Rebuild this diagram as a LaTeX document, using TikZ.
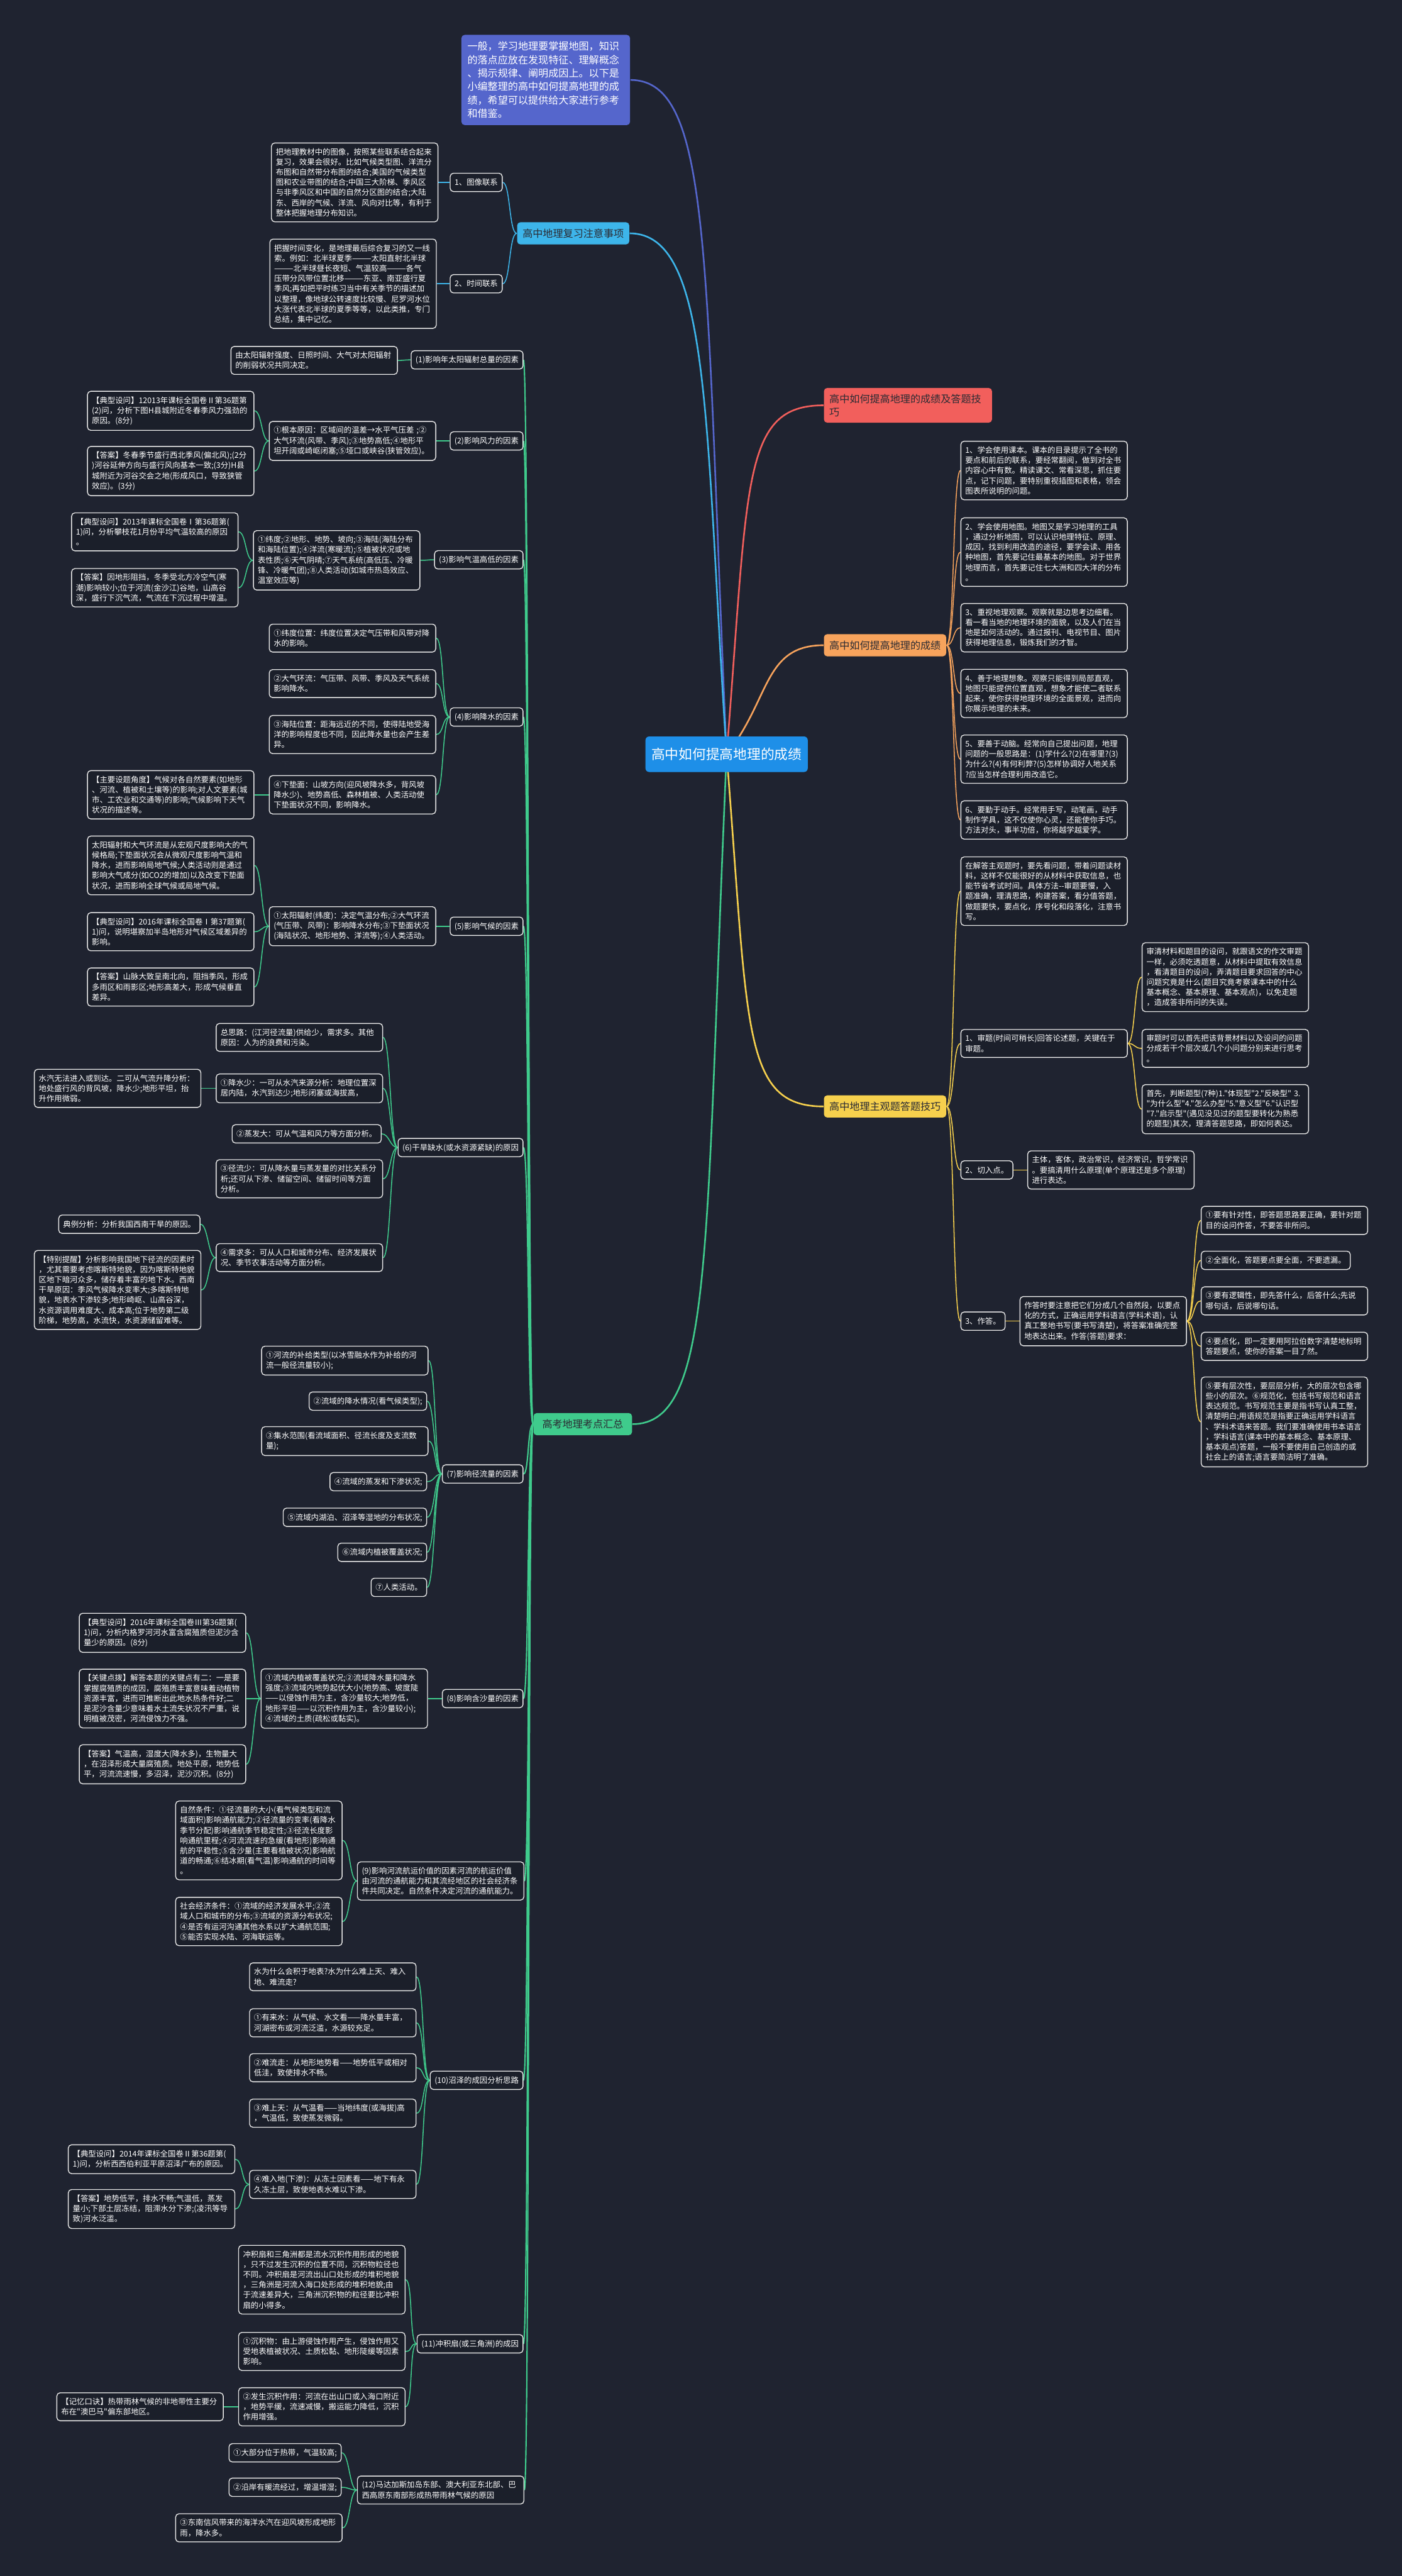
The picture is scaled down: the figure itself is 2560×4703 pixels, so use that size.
\documentclass[tikz,border=0pt]{standalone}
\usepackage{fontspec}
\setmainfont{Noto Sans CJK SC}[Ligatures=TeXOff]
\usepackage{xcolor}
\definecolor{bgdark}{HTML}{1F2330}
\definecolor{cardfill}{HTML}{1B1F2A}
\definecolor{cardline}{HTML}{E6E6E6}
\definecolor{introblue}{HTML}{5566CC}
\definecolor{hubblue}{HTML}{1E8FE8}
\definecolor{revcyan}{HTML}{3DB5EA}
\definecolor{tipred}{HTML}{F25F5C}
\definecolor{raiseorange}{HTML}{F7A35C}
\definecolor{subjyellow}{HTML}{F6D04D}
\definecolor{examgreen}{HTML}{3FCB8C}
\definecolor{darktext}{HTML}{2B2B33}
\usepackage{tikz}
\usetikzlibrary{positioning}
\pgfdeclarelayer{backdrop}
\pgfdeclarelayer{links}
\pgfsetlayers{backdrop,links,main}
\newcommand\cardfont{\fontsize{4.05pt}{5.29pt}\selectfont\lineskiplimit=-4pt\relax}
\newcommand\headfont{\fontsize{5.26pt}{6.97pt}\selectfont\lineskiplimit=-4pt\relax}
\newcommand\hubfont{\fontsize{7.1pt}{8.5pt}\selectfont}

\begin{document}
\begin{tikzpicture}[x=0.1mm, y=-0.1mm,
  base/.style={draw=cardline, fill=cardfill, line width=0.45pt, rounded corners=0.6mm,
               text=white, inner xsep=0.8mm, inner ysep=0.96mm},
  card/.style={base, font=\cardfont, text width=28.8mm, align=left},
  tag/.style={base, font=\cardfont, text height=3.55pt, text depth=0.5pt},
  headbox/.style={rounded corners=0.6mm, font=\headfont, text=darktext,
                  inner xsep=1mm, inner ysep=1.1mm},
  head/.style={headbox, text height=4.6pt, text depth=0.66pt},
  hub/.style={fill=hubblue, rounded corners=0.7mm, font=\hubfont, text=white,
              inner xsep=1.1mm, inner ysep=2mm, text height=6.2pt, text depth=0.9pt},
  lnk/.style={line width=0.5pt},
  bigl/.style={line width=0.85pt},
  glnk/.style={lnk, draw=examgreen},
  olnk/.style={lnk, draw=raiseorange},
  ylnk/.style={lnk, draw=subjyellow},
  clnk/.style={lnk, draw=revcyan},
  tol/.style={to path={(\tikztostart) .. controls +(-#1,0) and +(#1,0) .. (\tikztotarget)}},
  tol/.default=14,
  tor/.style={to path={(\tikztostart) .. controls +(#1,0) and +(-#1,0) .. (\tikztotarget)}},
  tor/.default=14
]
\useasboundingbox (0,0) rectangle (2560,4703);
\begin{pgfonlayer}{backdrop}
  \fill[bgdark] (0,0) rectangle (2560,4703);
\end{pgfonlayer}

% centre and main branches
\node[hub] (hub) at (1327,1377) {高中如何提高地理的成绩};
\node[headbox, fill=introblue, text=white, text width=28.6mm, align=left,
      inner xsep=1.1mm, inner ysep=1.25mm, anchor=west] (intro) at (842,146)
  {一般，学习地理要掌握地图，知识\\
   的落点应放在发现特征、理解概念\\
   、揭示规律、阐明成因上。以下是\\
   小编整理的高中如何提高地理的成\\
   绩，希望可以提供给大家进行参考\\
   和借鉴。};
\node[head, fill=revcyan, anchor=east] (review) at (1150,426) {高中地理复习注意事项};
\node[head, fill=examgreen, anchor=east, minimum width=18mm] (exam) at (1155,2600) {高考地理考点汇总};
\node[headbox, fill=tipred, text width=28.7mm, align=left, anchor=west] (tips) at (1504,740)
  {高中如何提高地理的成绩及答题技\\巧};
\node[head, fill=raiseorange, anchor=west] (raise) at (1504,1178) {高中如何提高地理的成绩};
\node[head, fill=subjyellow, anchor=west] (subj) at (1504,2020) {高中地理主观题答题技巧};

% review
\node[tag, anchor=east] (img) at (918,333) {1、图像联系};
\node[card, anchor=west] (imgT) at (495,333)
  {把地理教材中的图像，按照某些联系结合起来\\
   复习，效果会很好。比如气候类型图、洋流分\\
   布图和自然带分布图的结合;美国的气候类型\\
   图和农业带图的结合;中国三大阶梯、季风区\\
   与非季风区和中国的自然分区图的结合;大陆\\
   东、西岸的气候、洋流、风向对比等，有利于\\
   整体把握地理分布知识。};
\node[tag, anchor=east] (tim) at (918,518) {2、时间联系};
\node[card, anchor=west] (timT) at (492,518)
  {把握时间变化，是地理最后综合复习的又一线\\
   索。例如：北半球夏季———太阳直射北半球\\
   ———北半球昼长夜短、气温较高———各气\\
   压带分风带位置北移———东亚、南亚盛行夏\\
   季风;再如把平时练习当中有关季节的描述加\\
   以整理，像地球公转速度比较慢、尼罗河水位\\
   大涨代表北半球的夏季等等，以此类推，专门\\
   总结，集中记忆。};

% exam points
\node[tag, anchor=east] (sun) at (956,657) {(1)影响年太阳辐射总量的因素};
\node[card, anchor=west] (sunT) at (421,658)
  {由太阳辐射强度、日照时间、大气对太阳辐射\\
   的削弱状况共同决定。};

\node[tag, anchor=east] (wind) at (956,805) {(2)影响风力的因素};
\node[card, anchor=west] (windA) at (491,805)
  {①根本原因：区域间的温差→水平气压差~;②\\
   大气环流(风带、季风);③地势高低;④地形平\\
   坦开阔或崎岖闭塞;⑤垭口或峡谷(狭管效应)。};
\node[card, anchor=west] (windQ) at (159,750)
  {【典型设问】12013年课标全国卷Ⅱ第36题第\\
   (2)问，分析下图H县城附近冬春季风力强劲的\\
   原因。(8分)};
\node[card, anchor=west] (windK) at (159,860)
  {【答案】冬春季节盛行西北季风(偏北风);(2分\\
   )河谷延伸方向与盛行风向基本一致;(3分)H县\\
   城附近为河谷交会之地(形成风口，导致狭管\\
   效应)。(3分)};

\node[tag, anchor=east] (temp) at (956,1022) {(3)影响气温高低的因素};
\node[card, anchor=west] (tempA) at (462,1023)
  {①纬度;②地形、地势、坡向;③海陆(海陆分布\\
   和海陆位置);④洋流(寒暖流);⑤植被状况或地\\
   表性质;⑥天气阴晴;⑦天气系统(高低压、冷暖\\
   锋、冷暖气团);⑧人类活动(如城市热岛效应、\\
   温室效应等)};
\node[card, anchor=west] (tempQ) at (130,971)
  {【典型设问】2013年课标全国卷Ⅰ第36题第(\\
   1)问，分析攀枝花1月份平均气温较高的原因\\
   。};
\node[card, anchor=west] (tempK) at (130,1073)
  {【答案】因地形阻挡，冬季受北方冷空气(寒\\
   潮)影响较小;位于河流(金沙江)谷地，山高谷\\
   深，盛行下沉气流，气流在下沉过程中增温。};

\node[tag, anchor=east] (rain) at (956,1309) {(4)影响降水的因素};
\node[card, anchor=west] (rain1) at (491,1165)
  {①纬度位置：纬度位置决定气压带和风带对降\\
   水的影响。};
\node[card, anchor=west] (rain2) at (491,1248)
  {②大气环流：气压带、风带、季风及天气系统\\
   影响降水。};
\node[card, anchor=west] (rain3) at (491,1341)
  {③海陆位置：距海远近的不同，使得陆地受海\\
   洋的影响程度也不同，因此降水量也会产生差\\
   异。};
\node[card, anchor=west] (rain4) at (491,1451)
  {④下垫面：山坡方向(迎风坡降水多，背风坡\\
   降水少)、地势高低、森林植被、人类活动使\\
   下垫面状况不同，影响降水。};
\node[card, anchor=west] (rainN) at (159,1451)
  {【主要设题角度】气候对各自然要素(如地形\\
   、河流、植被和土壤等)的影响;对人文要素(城\\
   市、工农业和交通等)的影响;气候影响下天气\\
   状况的描述等。};

\node[tag, anchor=east] (clim) at (956,1691) {(5)影响气候的因素};
\node[card, anchor=west] (climA) at (491,1691)
  {①太阳辐射(纬度)：决定气温分布;②大气环流\\
   (气压带、风带)：影响降水分布;③下垫面状况\\
   (海陆状况、地形地势、洋流等);④人类活动。};
\node[card, anchor=west] (climN) at (159,1580)
  {太阳辐射和大气环流是从宏观尺度影响大的气\\
   候格局;下垫面状况会从微观尺度影响气温和\\
   降水，进而影响局地气候;人类活动则是通过\\
   影响大气成分(如CO2的增加)以及改变下垫面\\
   状况，进而影响全球气候或局地气候。};
\node[card, anchor=west] (climQ) at (159,1701)
  {【典型设问】2016年课标全国卷Ⅰ第37题第(\\
   1)问，说明堪察加半岛地形对气候区域差异的\\
   影响。};
\node[card, anchor=west] (climK) at (159,1802)
  {【答案】山脉大致呈南北向，阻挡季风，形成\\
   多雨区和雨影区;地形高差大，形成气候垂直\\
   差异。};

\node[tag, anchor=east] (dry) at (956,2095) {(6)干旱缺水(或水资源紧缺)的原因};
\node[card, anchor=west] (dry0) at (394,1894)
  {总思路：(江河径流量)供给少，需求多。其他\\
   原因：人为的浪费和污染。};
\node[card, anchor=west] (dry1) at (394,1987)
  {①降水少：一可从水汽来源分析：地理位置深\\
   居内陆，水汽到达少;地形闭塞或海拔高，};
\node[card, anchor=west] (dry1N) at (62,1987)
  {水汽无法进入或到达。二可从气流升降分析：\\
   地处盛行风的背风坡，降水少;地形平坦，抬\\
   升作用微弱。};
\node[tag, anchor=east] (dry2) at (697,2070) {②蒸发大：可从气温和风力等方面分析。};
\node[card, anchor=west] (dry3) at (394,2152)
  {③径流少：可从降水量与蒸发量的对比关系分\\
   析;还可从下渗、储留空间、储留时间等方面\\
   分析。};
\node[card, anchor=west] (dry4) at (394,2296)
  {④需求多：可从人口和城市分布、经济发展状\\
   况、季节农事活动等方面分析。};
\node[tag, anchor=east] (dry4E) at (366,2235) {典例分析：分析我国西南干旱的原因。};
\node[card, anchor=west] (dry4N) at (62,2355)
  {【特别提醒】分析影响我国地下径流的因素时\\
   ，尤其需要考虑喀斯特地貌，因为喀斯特地貌\\
   区地下暗河众多，储存着丰富的地下水。西南\\
   干旱原因：季风气候降水变率大;多喀斯特地\\
   貌，地表水下渗较多;地形崎岖、山高谷深，\\
   水资源调用难度大、成本高;位于地势第二级\\
   阶梯，地势高，水流快，水资源储留难等。};

\node[tag, anchor=east] (flow) at (956,2691) {(7)影响径流量的因素};
\node[card, anchor=west] (flow1) at (477,2484)
  {①河流的补给类型(以冰雪融水作为补给的河\\
   流一般径流量较小);};
\node[tag, anchor=east] (flow2) at (780,2558) {②流域的降水情况(看气候类型);};
\node[card, anchor=west] (flow3) at (477,2631)
  {③集水范围(看流域面积、径流长度及支流数\\
   量);};
\node[tag, anchor=east] (flow4) at (780,2705) {④流域的蒸发和下渗状况;};
\node[tag, anchor=east] (flow5) at (780,2770) {⑤流域内湖泊、沼泽等湿地的分布状况;};
\node[tag, anchor=east] (flow6) at (780,2834) {⑥流域内植被覆盖状况;};
\node[tag, anchor=east] (flow7) at (780,2898) {⑦人类活动。};

\node[tag, anchor=east] (silt) at (956,3101) {(8)影响含沙量的因素};
\node[card, anchor=west] (siltA) at (476,3101)
  {①流域内植被覆盖状况;②流域降水量和降水\\
   强度;③流域内地势起伏大小(地势高、坡度陡\\
   ——以侵蚀作用为主，含沙量较大;地势低，\\
   地形平坦——以沉积作用为主，含沙量较小);\\
   ④流域的土质(疏松或黏实)。};
\node[card, anchor=west] (siltQ) at (144,2981)
  {【典型设问】2016年课标全国卷Ⅲ第36题第(\\
   1)问，分析内格罗河河水富含腐殖质但泥沙含\\
   量少的原因。(8分)};
\node[card, anchor=west] (siltP) at (144,3101)
  {【关键点拨】解答本题的关键点有二：一是要\\
   掌握腐殖质的成因，腐殖质丰富意味着动植物\\
   资源丰富，进而可推断出此地水热条件好;二\\
   是泥沙含量少意味着水土流失状况不严重，说\\
   明植被茂密，河流侵蚀力不强。};
\node[card, anchor=west] (siltK) at (144,3221)
  {【答案】气温高，湿度大(降水多)，生物量大\\
   ，在沼泽形成大量腐殖质。地处平原，地势低\\
   平，河流流速慢，多沼泽，泥沙沉积。(8分)};

\node[card, anchor=west] (ship) at (652,3434)
  {(9)影响河流航运价值的因素河流的航运价值\\
   由河流的通航能力和其流经地区的社会经济条\\
   件共同决定。自然条件决定河流的通航能力。};
\node[card, anchor=west] (shipN) at (320,3360)
  {自然条件：①径流量的大小(看气候类型和流\\
   域面积)影响通航能力;②径流量的变率(看降水\\
   季节分配)影响通航季节稳定性;③径流长度影\\
   响通航里程;④河流流速的急缓(看地形)影响通\\
   航的平稳性;⑤含沙量(主要看植被状况)影响航\\
   道的畅通;⑥结冰期(看气温)影响通航的时间等\\
   。};
\node[card, anchor=west] (shipS) at (320,3508)
  {社会经济条件：①流域的经济发展水平;②流\\
   域人口和城市的分布;③流域的资源分布状况;\\
   ④是否有运河沟通其他水系以扩大通航范围;\\
   ⑤能否实现水陆、河海联运等。};

\node[tag, anchor=east] (marsh) at (956,3798) {(10)沼泽的成因分析思路};
\node[card, anchor=west] (marsh0) at (455,3609)
  {水为什么会积于地表?水为什么难上天、难入\\
   地、难流走?};
\node[card, anchor=west] (marsh1) at (455,3693)
  {①有来水：从气候、水文看——降水量丰富，\\
   河湖密布或河流泛滥，水源较充足。};
\node[card, anchor=west] (marsh2) at (455,3775)
  {②难流走：从地形地势看——地势低平或相对\\
   低洼，致使排水不畅。};
\node[card, anchor=west] (marsh3) at (455,3858)
  {③难上天：从气温看——当地纬度(或海拔)高\\
   ，气温低，致使蒸发微弱。};
\node[card, anchor=west] (marsh4) at (455,3988)
  {④难入地(下渗)：从冻土因素看——地下有永\\
   久冻土层，致使地表水难以下渗。};
\node[card, anchor=west] (marshQ) at (124,3942)
  {【典型设问】2014年课标全国卷Ⅱ第36题第(\\
   1)问，分析西西伯利亚平原沼泽广布的原因。};
\node[card, anchor=west] (marshK) at (124,4033)
  {【答案】地势低平，排水不畅;气温低，蒸发\\
   量小;下部土层冻结，阻滞水分下渗;(凌汛等导\\
   致)河水泛滥。};

\node[tag, anchor=east] (fan) at (956,4279) {(11)冲积扇(或三角洲)的成因};
\node[card, anchor=west] (fan0) at (435,4162)
  {冲积扇和三角洲都是流水沉积作用形成的地貌\\
   ，只不过发生沉积的位置不同，沉积物粒径也\\
   不同。冲积扇是河流出山口处形成的堆积地貌\\
   ，三角洲是河流入海口处形成的堆积地貌;由\\
   于流速差异大，三角洲沉积物的粒径要比冲积\\
   扇的小得多。};
\node[card, anchor=west] (fan1) at (435,4293)
  {①沉积物：由上游侵蚀作用产生，侵蚀作用又\\
   受地表植被状况、土质松黏、地形陡缓等因素\\
   影响。};
\node[card, anchor=west] (fan2) at (435,4394)
  {②发生沉积作用：河流在出山口或入海口附近\\
   ，地势平缓，流速减慢，搬运能力降低，沉积\\
   作用增强。};
\node[card, anchor=west] (fan2N) at (103,4394)
  {【记忆口诀】热带雨林气候的非地带性主要分\\
   布在"澳巴马"偏东部地区。};

\node[card, anchor=west] (forest) at (652,4546)
  {(12)马达加斯加岛东部、澳大利亚东北部、巴\\
   西高原东南部形成热带雨林气候的原因};
\node[tag, anchor=east] (forest1) at (624,4478) {①大部分位于热带，气温较高;};
\node[tag, anchor=east] (forest2) at (624,4541) {②沿岸有暖流经过，增温增湿;};
\node[card, anchor=west] (forest3) at (320,4615)
  {③东南信风带来的海洋水汽在迎风坡形成地形\\
   雨，降水多。};

% raise the grade
\node[card, anchor=west] (way1) at (1754,859)
  {1、学会使用课本。课本的目录提示了全书的\\
   要点和前后的联系，要经常翻阅，做到对全书\\
   内容心中有数。精读课文、常看深思，抓住要\\
   点，记下问题，要特别重视插图和表格，领会\\
   图表所说明的问题。};
\node[card, anchor=west] (way2) at (1754,1008)
  {2、学会使用地图。地图又是学习地理的工具\\
   ，通过分析地图，可以认识地理特征、原理、\\
   成因，找到利用改造的途径，要学会读、用各\\
   种地图，首先要记住最基本的地图。对于世界\\
   地理而言，首先要记住七大洲和四大洋的分布\\
   。};
\node[card, anchor=west] (way3) at (1754,1146)
  {3、重视地理观察。观察就是边思考边细看。\\
   看一看当地的地理环境的面貌，以及人们在当\\
   地是如何活动的。通过报刊、电视节目、图片\\
   获得地理信息，锻炼我们的才智。};
\node[card, anchor=west] (way4) at (1754,1266)
  {4、善于地理想象。观察只能得到局部直观，\\
   地图只能提供位置直观，想象才能使二者联系\\
   起来，使你获得地理环境的全面景观，进而向\\
   你展示地理的未来。};
\node[card, anchor=west] (way5) at (1754,1386)
  {5、要善于动脑。经常向自己提出问题，地理\\
   问题的一般思路是：(1)学什么?(2)在哪里?(3)\\
   为什么?(4)有何利弊?(5)怎样协调好人地关系\\
   ?应当怎样合理利用改造它。};
\node[card, anchor=west] (way6) at (1754,1497)
  {6、要勤于动手。经常用手写，动笔画，动手\\
   制作学具，这不仅使你心灵，还能使你手巧。\\
   方法对头，事半功倍，你将越学越爱学。};

% subjective questions
\node[card, anchor=west] (ans0) at (1754,1627)
  {在解答主观题时，要先看问题，带着问题读材\\
   料，这样不仅能很好的从材料中获取信息，也\\
   能节省考试时间。具体方法--审题要慢，入\\
   题准确，理清思路，构建答案，看分值答题，\\
   做题要快，要点化，序号化和段落化，注意书\\
   写。};
\node[card, anchor=west] (ans1) at (1754,1905)
  {1、审题(时间可稍长)回答论述题，关键在于\\
   审题。};
\node[card, anchor=west] (ans1a) at (2085,1784)
  {审清材料和题目的设问，就跟语文的作文审题\\
   一样，必须吃透题意，从材料中提取有效信息\\
   ，看清题目的设问，弄清题目要求回答的中心\\
   问题究竟是什么(题目究竟考察课本中的什么\\
   基本概念、基本原理、基本观点)，以免走题\\
   ，造成答非所问的失误。};
\node[card, anchor=west] (ans1b) at (2085,1914)
  {审题时可以首先把该背景材料以及设问的问题\\
   分成若干个层次或几个小问题分别来进行思考\\
   。};
\node[card, anchor=west] (ans1c) at (2085,2025)
  {首先，判断题型(7种)1."体现型"2."反映型"~3.\\
   "为什么型"4."怎么办型"5."意义型"6."认识型\\
   "7."启示型"(遇见没见过的题型要转化为熟悉\\
   的题型)其次，理清答题思路，即如何表达。};
\node[tag, anchor=west] (ans2) at (1754,2136) {2、切入点。};
\node[card, anchor=west] (ans2a) at (1876,2136)
  {主体，客体，政治常识，经济常识，哲学常识\\
   。要搞清用什么原理(单个原理还是多个原理)\\
   进行表达。};
\node[tag, anchor=west] (ans3) at (1754,2412) {3、作答。};
\node[card, anchor=west] (ans3a) at (1862,2412)
  {作答时要注意把它们分成几个自然段，以要点\\
   化的方式，正确运用学科语言(学科术语)，认\\
   真工整地书写(要书写清楚)，将答案准确完整\\
   地表达出来。作答(答题)要求：};
\node[card, anchor=west] (req1) at (2193,2228)
  {①要有针对性，即答题思路要正确，要针对题\\
   目的设问作答，不要答非所问。};
\node[tag, anchor=west] (req2) at (2193,2301) {②全面化，答题要点要全面，不要遗漏。};
\node[card, anchor=west] (req3) at (2193,2375)
  {③要有逻辑性，即先答什么，后答什么;先说\\
   哪句话，后说哪句话。};
\node[card, anchor=west] (req4) at (2193,2458)
  {④要点化，即一定要用阿拉伯数字清楚地标明\\
   答题要点，使你的答案一目了然。};
\node[card, anchor=west] (req5) at (2193,2596)
  {⑤要有层次性，要层层分析，大的层次包含哪\\
   些小的层次。⑥规范化，包括书写规范和语言\\
   表达规范。书写规范主要是指书写认真工整，\\
   清楚明白;用语规范是指要正确运用学科语言\\
   、学科术语来答题。我们要准确使用书本语言\\
   ，学科语言(课本中的基本概念、基本原理、\\
   基本观点)答题，一般不要使用自己创造的或\\
   社会上的语言;语言要简洁明了准确。};

\begin{pgfonlayer}{links}
  \draw[bigl, introblue] (hub.center) .. controls +(-40,-900) and +(150,0) .. (intro.east);
  \draw[bigl, revcyan] (hub.center) .. controls +(-40,-600) and +(150,0) .. (review.east);
  \draw[bigl, examgreen] (hub.center) .. controls +(-40,900) and +(150,0) .. (exam.east);
  \draw[bigl, tipred] (hub.center) .. controls +(40,-500) and +(-150,0) .. (tips.west);
  \draw[bigl, raiseorange] (hub.center) .. controls +(80,-100) and +(-110,0) .. (raise.west);
  \draw[bigl, subjyellow] (hub.center) .. controls +(40,500) and +(-150,0) .. (subj.west);

  \draw[clnk] (review.west) to[tol] (img.east);
  \draw[clnk] (review.west) to[tol] (tim.east);
  \draw[clnk] (img.west) to[tol] (imgT.east);
  \draw[clnk] (tim.west) to[tol] (timT.east);

  \draw[glnk, line width=0.7pt] (exam.west) to[tol=10] (sun.east);
  \draw[glnk, line width=0.7pt] (exam.west) to[tol=10] (wind.east);
  \draw[glnk, line width=0.7pt] (exam.west) to[tol=10] (temp.east);
  \draw[glnk, line width=0.7pt] (exam.west) to[tol=10] (rain.east);
  \draw[glnk, line width=0.7pt] (exam.west) to[tol=10] (clim.east);
  \draw[glnk, line width=0.7pt] (exam.west) to[tol=10] (dry.east);
  \draw[glnk, line width=0.7pt] (exam.west) to[tol=10] (flow.east);
  \draw[glnk, line width=0.7pt] (exam.west) to[tol=10] (silt.east);
  \draw[glnk, line width=0.7pt] (exam.west) to[tol=10] (ship.east);
  \draw[glnk, line width=0.7pt] (exam.west) to[tol=10] (marsh.east);
  \draw[glnk, line width=0.7pt] (exam.west) to[tol=10] (fan.east);
  \draw[glnk, line width=0.7pt] (exam.west) to[tol=10] (forest.east);

  \draw[glnk] (sun.west) to[tol] (sunT.east);
  \draw[glnk] (wind.west) to[tol] (windA.east);
  \draw[glnk] (windA.west) to[tol] (windQ.east);
  \draw[glnk] (windA.west) to[tol] (windK.east);
  \draw[glnk] (temp.west) to[tol] (tempA.east);
  \draw[glnk] (tempA.west) to[tol] (tempQ.east);
  \draw[glnk] (tempA.west) to[tol] (tempK.east);
  \draw[glnk] (rain.west) to[tol] (rain1.east);
  \draw[glnk] (rain.west) to[tol] (rain2.east);
  \draw[glnk] (rain.west) to[tol] (rain3.east);
  \draw[glnk] (rain.west) to[tol] (rain4.east);
  \draw[glnk] (rain4.west) to[tol] (rainN.east);
  \draw[glnk] (clim.west) to[tol] (climA.east);
  \draw[glnk] (climA.west) to[tol] (climN.east);
  \draw[glnk] (climA.west) to[tol] (climQ.east);
  \draw[glnk] (climA.west) to[tol] (climK.east);
  \draw[glnk] (dry.west) to[tol] (dry0.east);
  \draw[glnk] (dry.west) to[tol] (dry1.east);
  \draw[glnk] (dry.west) to[tol] (dry2.east);
  \draw[glnk] (dry.west) to[tol] (dry3.east);
  \draw[glnk] (dry.west) to[tol] (dry4.east);
  \draw[glnk] (dry1.west) to[tol] (dry1N.east);
  \draw[glnk] (dry4.west) to[tol] (dry4E.east);
  \draw[glnk] (dry4.west) to[tol] (dry4N.east);
  \draw[glnk] (flow.west) to[tol] (flow1.east);
  \draw[glnk] (flow.west) to[tol] (flow2.east);
  \draw[glnk] (flow.west) to[tol] (flow3.east);
  \draw[glnk] (flow.west) to[tol] (flow4.east);
  \draw[glnk] (flow.west) to[tol] (flow5.east);
  \draw[glnk] (flow.west) to[tol] (flow6.east);
  \draw[glnk] (flow.west) to[tol] (flow7.east);
  \draw[glnk] (silt.west) to[tol] (siltA.east);
  \draw[glnk] (siltA.west) to[tol] (siltQ.east);
  \draw[glnk] (siltA.west) to[tol] (siltP.east);
  \draw[glnk] (siltA.west) to[tol] (siltK.east);
  \draw[glnk] (ship.west) to[tol] (shipN.east);
  \draw[glnk] (ship.west) to[tol] (shipS.east);
  \draw[glnk] (marsh.west) to[tol] (marsh0.east);
  \draw[glnk] (marsh.west) to[tol] (marsh1.east);
  \draw[glnk] (marsh.west) to[tol] (marsh2.east);
  \draw[glnk] (marsh.west) to[tol] (marsh3.east);
  \draw[glnk] (marsh.west) to[tol] (marsh4.east);
  \draw[glnk] (marsh4.west) to[tol] (marshQ.east);
  \draw[glnk] (marsh4.west) to[tol] (marshK.east);
  \draw[glnk] (fan.west) to[tol] (fan0.east);
  \draw[glnk] (fan.west) to[tol] (fan1.east);
  \draw[glnk] (fan.west) to[tol] (fan2.east);
  \draw[glnk] (fan2.west) to[tol] (fan2N.east);
  \draw[glnk] (forest.west) to[tol] (forest1.east);
  \draw[glnk] (forest.west) to[tol] (forest2.east);
  \draw[glnk] (forest.west) to[tol] (forest3.east);

  \draw[olnk] (raise.east) to[tor] (way1.west);
  \draw[olnk] (raise.east) to[tor] (way2.west);
  \draw[olnk] (raise.east) to[tor] (way3.west);
  \draw[olnk] (raise.east) to[tor] (way4.west);
  \draw[olnk] (raise.east) to[tor] (way5.west);
  \draw[olnk] (raise.east) to[tor] (way6.west);

  \draw[ylnk] (subj.east) to[tor] (ans0.west);
  \draw[ylnk] (subj.east) to[tor] (ans1.west);
  \draw[ylnk] (subj.east) to[tor] (ans2.west);
  \draw[ylnk] (subj.east) to[tor] (ans3.west);
  \draw[ylnk] (ans1.east) to[tor] (ans1a.west);
  \draw[ylnk] (ans1.east) to[tor] (ans1b.west);
  \draw[ylnk] (ans1.east) to[tor] (ans1c.west);
  \draw[ylnk] (ans2.east) to[tor] (ans2a.west);
  \draw[ylnk] (ans3.east) to[tor] (ans3a.west);
  \draw[ylnk] (ans3a.east) to[tor] (req1.west);
  \draw[ylnk] (ans3a.east) to[tor] (req2.west);
  \draw[ylnk] (ans3a.east) to[tor] (req3.west);
  \draw[ylnk] (ans3a.east) to[tor] (req4.west);
  \draw[ylnk] (ans3a.east) to[tor] (req5.west);
\end{pgfonlayer}
\end{tikzpicture}
\end{document}
